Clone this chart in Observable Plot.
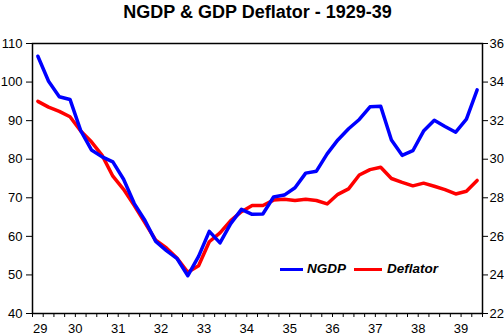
<!DOCTYPE html>
<html>
<head>
<meta charset="utf-8">
<script src="https://cdn.jsdelivr.net/npm/d3@7"></script>
<script src="https://cdn.jsdelivr.net/npm/@observablehq/plot@0.6"></script>
<style>
  body { margin: 0; background: white; }
  #wrap { position: relative; width: 504px; height: 335px; font-family: Arial, "Liberation Sans", sans-serif; }
  .leg { position: absolute; top: 260px; font-size: 13.5px; font-weight: bold; font-style: italic; line-height: 18px; }
  .sw { position: absolute; height: 3.5px; top: 267.5px; }
</style>
</head>
<body>
<div id="wrap"></div>
<script>
// Quarterly data 1929Q1 .. 1939Q2
const startYear = 1929;
const ngdp = [106.7, 100.2, 96.2, 95.5, 87.4, 82.4, 80.6, 79.3, 74.8, 68.5,
              64.1, 58.7, 56.3, 54.2, 49.8, 54.8, 61.3, 58.3, 63.3, 67.0,
              65.7, 65.8, 70.2, 70.7, 72.6, 76.4, 76.9, 81.4, 85.0, 87.9,
              90.3, 93.6, 93.7, 85.0, 81.0, 82.2, 87.3, 90.1, 88.5, 87.0,
              90.4, 98.0];
const deflator = [33.0, 32.7, 32.48, 32.2, 31.46, 30.9, 30.2, 29.12, 28.44, 27.6,
                  26.7, 25.8, 25.4, 24.86, 24.14, 24.48, 25.72, 26.18, 26.82, 27.28,
                  27.6, 27.6, 27.88, 27.92, 27.86, 27.92, 27.86, 27.68, 28.18, 28.46,
                  29.18, 29.46, 29.58, 29.0, 28.8, 28.62, 28.76, 28.6, 28.42, 28.2,
                  28.34, 28.9];
const yearLabels = ["29","30","31","32","33","34","35","36","37","38","39"];
const leftTicks = [40, 50, 60, 70, 80, 90, 100, 110];
const rightTicks = [22, 24, 26, 28, 30, 32, 34, 36];
const title = "NGDP & GDP Deflator - 1929-39";

// left axis 40..110 <-> right axis 22..36
const toLeft = r => 40 + (r - 22) * 5;
const qx = i => startYear + (i + 0.5) / 4;
const ngdpData = ngdp.map((v, i) => ({t: qx(i), v}));
const defData = deflator.map((v, i) => ({t: qx(i), v: toLeft(v)}));
const quarterTicks = d3.range(0, ngdp.length + 1).map(i => startYear + i / 4);
const labelData = yearLabels.map((s, i) => ({t: startYear + i, s}));

const chart = Plot.plot({
  width: 504, height: 335,
  marginTop: 43, marginBottom: 22, marginLeft: 32, marginRight: 22,
  x: {domain: [startYear, startYear + ngdp.length / 4], axis: null},
  y: {domain: [40, 110], axis: null},
  style: {fontFamily: 'Arial, "Liberation Sans", sans-serif', fontSize: "13px", color: "black", background: "white"},
  marks: [
    Plot.frame({stroke: "black", strokeWidth: 1.5}),
    Plot.axisY({anchor: "left", ticks: leftTicks, tickSize: 6, tickPadding: 4, label: null, fontSize: 13}),
    Plot.axisY({anchor: "right", ticks: leftTicks, tickFormat: (d, i) => String(rightTicks[i]), tickSize: 5, tickPadding: 2, label: null, fontSize: 13}),
    Plot.axisX({anchor: "bottom", ticks: quarterTicks, tickFormat: () => "", tickSize: 4, label: null}),
    Plot.text(labelData.slice(1), {x: "t", text: "s", frameAnchor: "bottom", lineAnchor: "bottom", dy: 19.5, fontSize: 13}),
    Plot.text(labelData.slice(0, 1), {x: "t", text: "s", frameAnchor: "bottom", lineAnchor: "bottom", dy: 19.5, fontSize: 13, textAnchor: "start", dx: 0.5}),
    Plot.line(defData, {x: "t", y: "v", stroke: "#ff0000", strokeWidth: 3.5, strokeLinejoin: "round"}),
    Plot.line(ngdpData, {x: "t", y: "v", stroke: "#0000ff", strokeWidth: 3.5, strokeLinejoin: "round"}),
    Plot.text([title], {text: d => d, frameAnchor: "top", lineAnchor: "bottom", dy: -25.7, fontSize: 18, fontWeight: "bold"})
  ]
});

const wrap = document.getElementById("wrap");
wrap.appendChild(chart);
const legend = [
  {name: "NGDP", color: "#0000ff", x0: 280, x1: 303, tx: 307},
  {name: "Deflator", color: "#ff0000", x0: 354, x1: 382, tx: 387}
];
for (const l of legend) {
  const sw = document.createElement("div");
  sw.className = "sw";
  sw.style.left = l.x0 + "px";
  sw.style.width = (l.x1 - l.x0) + "px";
  sw.style.background = l.color;
  wrap.appendChild(sw);
  const tx = document.createElement("div");
  tx.className = "leg";
  tx.style.left = l.tx + "px";
  tx.textContent = l.name;
  wrap.appendChild(tx);
}
</script>
</body>
</html>
